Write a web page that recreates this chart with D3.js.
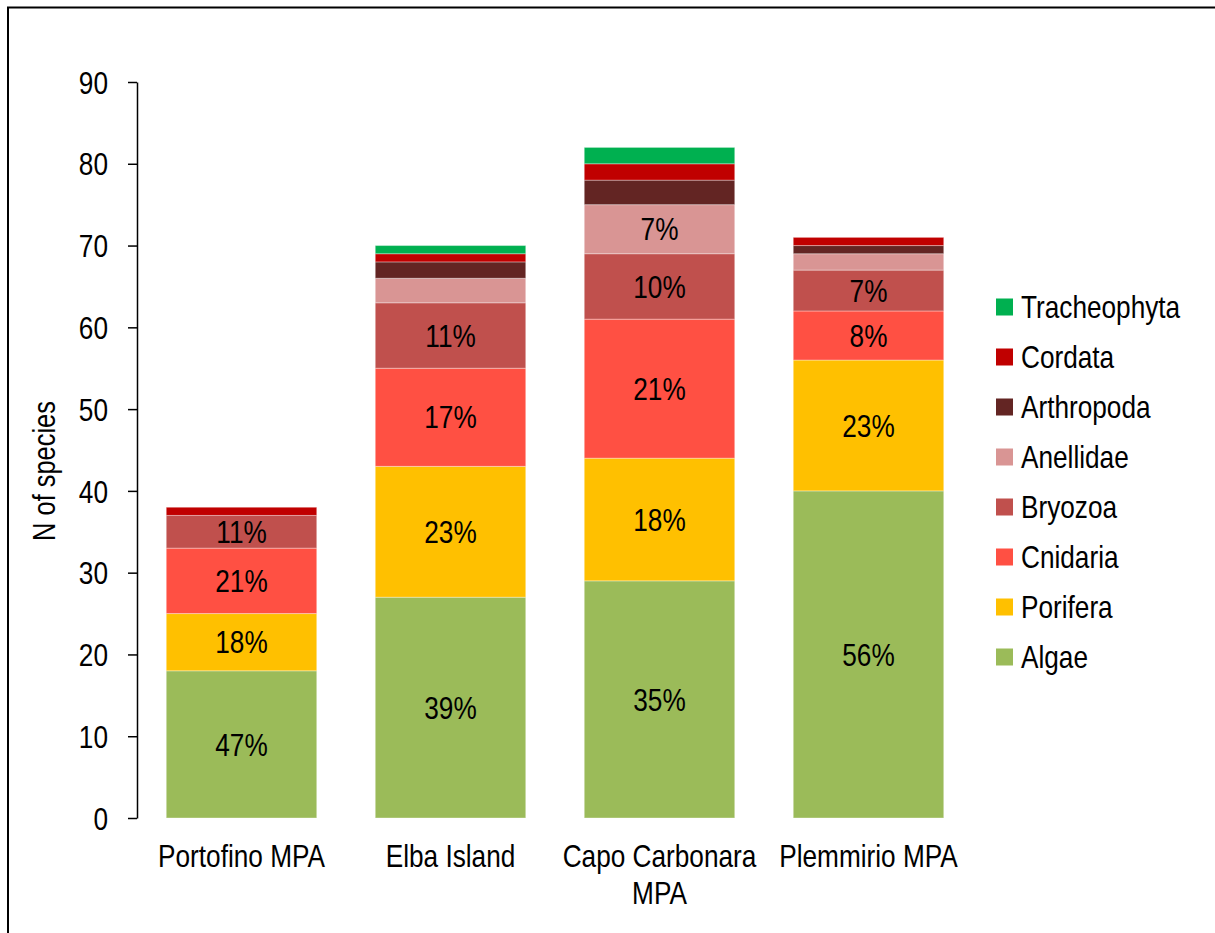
<!DOCTYPE html>
<html>
<head>
<meta charset="utf-8">
<script src="https://cdn.jsdelivr.net/npm/d3@7"></script>
<style>
  body { margin: 0; background: #fff; }
  text { font-family: "Liberation Sans", Arial, sans-serif; fill: #000; }
</style>
</head>
<body>
<svg id="chart" width="1215" height="933"></svg>
<script>
// data (number of species per phylum)
var sites = ["Portofino MPA", "Elba Island", "Capo Carbonara MPA", "Plemmirio MPA"];
var phyla = ["Algae", "Porifera", "Cnidaria", "Bryozoa", "Anellidae", "Arthropoda", "Cordata", "Tracheophyta"];
var algae        = [18, 27, 29, 40];
var porifera     = [7, 16, 15, 16];
var cnidaria     = [8, 12, 17, 6];
var bryozoa      = [4, 8, 8, 5];
var anellidae    = [0, 3, 6, 2];
var arthropoda   = [0, 2, 3, 1];
var cordata      = [1, 1, 2, 1];
var tracheophyta = [0, 1, 2, 0];
var yTicks = [0, 10, 20, 30, 40, 50, 60, 70, 80, 90];
var colors = ["#9BBB59", "#FFC000", "#FF5043", "#C0504D", "#D99594", "#632523", "#C00000", "#00B050"];

var series = [algae, porifera, cnidaria, bryozoa, anellidae, arthropoda, cordata, tracheophyta];

var svg = d3.select("#chart");
var fs = 31, sx = 0.845; // narrow font look

function narrow(sel, px, py) {
	sel.attr("transform", "translate(" + px + "," + py + ") scale(" + sx + ",1)");
}

// outer frame
svg.append("rect")
	.attr("x", 8).attr("y", 7.5)
	.attr("width", 1240).attr("height", 960)
	.attr("fill", "none").attr("stroke", "#000").attr("stroke-width", 2);

var plotLeft = 137, plotRight = 973, plotTop = 82, plotBottom = 818;

var x = d3.scaleBand().domain(sites).range([plotLeft, plotRight]).paddingInner(0.28).paddingOuter(0.14);
var y = d3.scaleLinear().domain([0, 90]).range([plotBottom, plotTop]);

// build stacked table
var table = sites.map(function(s, i) {
	var row = {site: s};
	phyla.forEach(function(p, j) { row[p] = series[j][i]; });
	return row;
});
var stacked = d3.stack().keys(phyla)(table);
var totals = table.map(function(r) { return d3.sum(phyla, function(p) { return r[p]; }); });

var g = svg.append("g");

stacked.forEach(function(layer, j) {
	g.selectAll(".seg" + j)
		.data(layer.filter(function(d) { return d[1] > d[0]; }))
		.enter().append("rect")
		.attr("x", function(d) { return x(d.data.site); })
		.attr("y", function(d) { return y(d[1]); })
		.attr("width", x.bandwidth())
		.attr("height", function(d) { return y(d[0]) - y(d[1]); })
		.attr("fill", colors[j])
		.attr("stroke", "rgba(255,255,255,0.35)")
		.attr("stroke-width", 1);
});

// percent labels
stacked.forEach(function(layer, j) {
	layer.forEach(function(d, i) {
		var pct = (d[1] - d[0]) / totals[i];
		if (pct < 0.05) return;
		var t = g.append("text")
			.attr("text-anchor", "middle")
			.attr("dy", "0.36em")
			.style("font-size", fs + "px")
			.text(Math.round(pct * 100) + "%");
		narrow(t, x(d.data.site) + x.bandwidth() / 2, y((d[0] + d[1]) / 2));
	});
});

// y axis
var yAxis = svg.append("g")
	.attr("transform", "translate(" + plotLeft + ",0)")
	.call(d3.axisLeft(y).tickValues(yTicks).tickSize(9).tickSizeOuter(0).tickPadding(20));
yAxis.select(".domain").attr("stroke", "#000").attr("stroke-width", 1.5);
yAxis.selectAll(".tick line").attr("stroke", "#000").attr("stroke-width", 1.5);
yAxis.selectAll(".tick text")
	.attr("x", -29 / sx)
	.attr("dy", "0.36em")
	.style("font-size", fs + "px")
	.style("font-family", "Liberation Sans, Arial, sans-serif")
	.attr("fill", "#000")
	.attr("transform", "scale(" + sx + ",1)");

// y title
svg.append("text")
	.attr("text-anchor", "middle")
	.style("font-size", fs + "px")
	.attr("transform", "translate(55,471) rotate(-90) scale(0.82,1)")
	.text("N of species");

// category labels, wrapped to band width
sites.forEach(function(s) {
	var words = s.split(" "), lines = [], cur = "";
	var probe = svg.append("text").style("font-size", fs + "px");
	words.forEach(function(w) {
		var test = cur ? cur + " " + w : w;
		probe.text(test);
		if (cur && probe.node().getComputedTextLength() * sx > x.bandwidth() + 50) {
			lines.push(cur); cur = w;
		} else cur = test;
	});
	lines.push(cur);
	probe.remove();
	lines.forEach(function(l, k) {
		var t = svg.append("text")
			.attr("text-anchor", "middle")
			.style("font-size", fs + "px")
			.text(l);
		narrow(t, x(s) + x.bandwidth() / 2, 867 + k * 37);
	});
});

// legend (top entry = top of stack)
var legend = svg.append("g");
phyla.slice().reverse().forEach(function(p, k) {
	var j = phyla.indexOf(p);
	var cy = 307 + k * 50;
	legend.append("rect")
		.attr("x", 996).attr("y", cy - 8.5)
		.attr("width", 17).attr("height", 17)
		.attr("fill", colors[j]);
	var t = legend.append("text")
		.attr("dy", "0.36em")
		.style("font-size", fs + "px")
		.text(p);
	narrow(t, 1021, cy);
});
</script>
</body>
</html>
